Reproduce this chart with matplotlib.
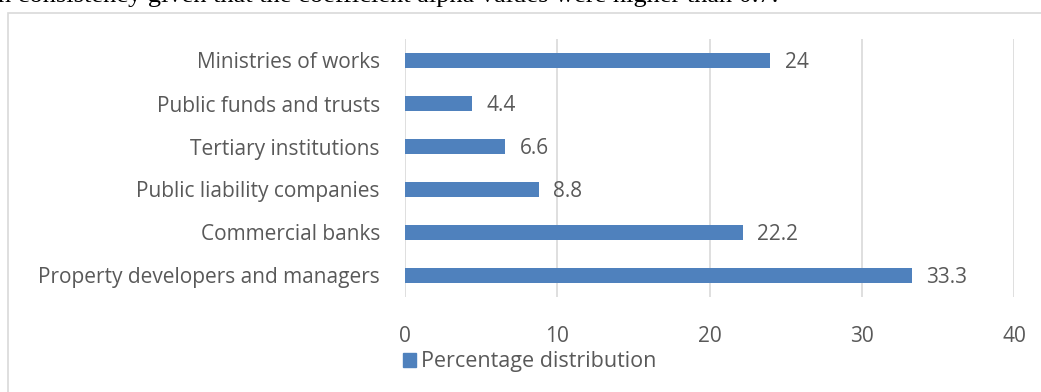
import matplotlib.pyplot as plt
from matplotlib.patches import Rectangle

categories = [
    "Property developers and managers",
    "Commercial banks",
    "Public liability companies",
    "Tertiary institutions",
    "Public funds and trusts",
    "Ministries of works",
]
values = [33.3, 22.2, 8.8, 6.6, 4.4, 24]
value_labels = ["33.3", "22.2", "8.8", "6.6", "4.4", "24"]
series_name = "Percentage distribution"
x_ticks = [0, 10, 20, 30, 40]

W, H = 1041, 392
bar_color = "#4F81BD"
text_color = "#595959"
grid_color = "#D9D9D9"
fs = 15

plt.rcParams["font.family"] = ["Open Sans", "DejaVu Sans"]

fig = plt.figure(figsize=(W / 100, H / 100), dpi=100)

# cut-off line of body text above the chart
fig.text(-2 / W, 1 - 2 / H, "n consistency given that the coefficient alpha values were higher than 0.7.",
         family=["Liberation Serif"], fontsize=19, color="black", va="baseline", ha="left")

# chart frame
fig.patches.append(Rectangle((8 / W, -0.1), 1.2, 1 - 13 / H + 0.1, transform=fig.transFigure,
                             fill=False, edgecolor=grid_color, linewidth=1.2))

ax = fig.add_axes([405 / W, 1 - 297 / H, (1014 - 405) / W, (297 - 39) / H])
pos = range(len(categories))
bars = ax.barh(pos, values, height=0.335, color=bar_color, zorder=3)
for b, lab in zip(bars, value_labels):
    ax.text(b.get_width() + 0.95, b.get_y() + b.get_height() / 2 - 0.04, lab,
            va="center", ha="left", fontsize=fs, color=text_color)

ax.set_xlim(0, 40)
ax.set_ylim(-0.5, 5.5)
ax.set_xticks(x_ticks)
ax.set_yticks(list(pos))
ax.set_yticklabels(categories)
ax.grid(axis="x", color=grid_color, linewidth=1.2, zorder=0)
for s in ax.spines.values():
    s.set_visible(False)
ax.tick_params(axis="y", length=0, pad=18, labelsize=fs, labelcolor=text_color)
ax.tick_params(axis="x", length=0, pad=21, labelsize=fs, labelcolor=text_color)

handle = Rectangle((0, 0), 1, 1, color=bar_color)
fig.legend([handle], [series_name], loc="center left", bbox_to_anchor=(403 / W, 1 - 362 / H),
           frameon=False, fontsize=15.5, labelcolor=text_color, handlelength=0.6,
           handleheight=0.6, handletextpad=0.25, borderpad=0, borderaxespad=0)

fig.savefig("out.png", dpi=100)
